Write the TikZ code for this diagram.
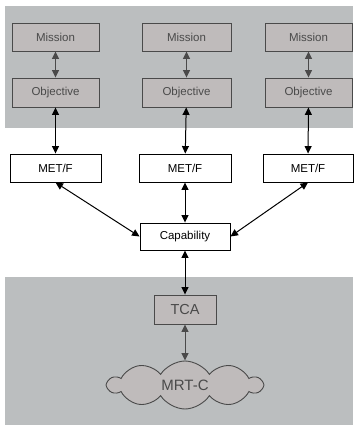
\documentclass[tikz,border=0pt]{standalone}
\usepackage{fontspec}
\setmainfont{Liberation Sans}
\usetikzlibrary{arrows.meta,shapes.symbols}

\definecolor{bandgray}{HTML}{BBBEBF}
\definecolor{boxgray}{HTML}{BFBBBB}
\definecolor{darkline}{HTML}{4A4A4A}

\tikzset{
  box/.style={draw=black, fill=white, line width=0.9pt, minimum width=90pt, minimum height=28pt, inner sep=0pt, font=\fontsize{11.5}{13}\selectfont},
  graybox/.style={box, draw=darkline, fill=boxgray, text=darkline},
  link/.style={line width=1pt, {Triangle[length=7.5pt,width=7pt]}-{Triangle[length=7.5pt,width=7pt]}},
  graylink/.style={link, draw=darkline, fill=darkline},
}

\begin{document}
\begin{tikzpicture}[x=1pt, y=-1pt]
        \useasboundingbox (0,0) rectangle (353,425);
        % shaded bands
        \fill[bandgray] (5,6) rectangle (353,128);
        \fill[bandgray] (5,277) rectangle (353,425);

        \node[graybox, minimum width=87pt] (m1) at (55.5,37) {Mission};
        \node[graybox, minimum width=89pt] (m2) at (186.5,37) {Mission};
        \node[graybox, minimum width=87pt] (m3) at (308.5,37) {Mission};
        \node[graybox, minimum width=87pt, minimum height=29pt] (o1) at (55.5,92.5) {Objective};
        \node[graybox, minimum width=89pt, minimum height=29pt] (o2) at (186.5,92.5) {Objective};
        \node[graybox, minimum width=87pt, minimum height=29pt] (o3) at (308.5,92.5) {Objective};
        \node[box, minimum width=91pt] (met1) at (55.5,168) {MET/F};
        \node[box, minimum width=92pt] (met2) at (185,168) {MET/F};
        \node[box, minimum width=90pt] (met3) at (308,168) {MET/F};
        \node[box, minimum height=27pt] (cap) at (185,236.5) {Capability};
        \node[graybox, minimum width=62pt, minimum height=29pt, font=\fontsize{14.5}{16}\selectfont] (tca) at (185,309.5) {TCA};
        \node[cloud, cloud puffs=10, cloud puff arc=115, aspect=3.3, draw=darkline, fill=boxgray, text=darkline, line width=0.9pt, minimum width=154pt, minimum height=48pt, inner sep=0pt, font=\fontsize{15}{17}\selectfont] (mrt) at (185,385) {MRT-C};

        \draw[graylink] (m1) -- (o1);
        \draw[graylink] (m2) -- (o2);
        \draw[graylink] (m3) -- (o3);
        \draw[link] (o1) -- (met1);
        \draw[link] (o2) -- (met2);
        \draw[link] (o3) -- (met3);
        \draw[link] (met1.south) -- (cap.west);
        \draw[link] (met2) -- (cap);
        \draw[link] (met3.south) -- (cap.east);
        \draw[link] (cap) -- (tca);
        \draw[graylink] (tca) -- (mrt);
    \end{tikzpicture}
\end{document}
